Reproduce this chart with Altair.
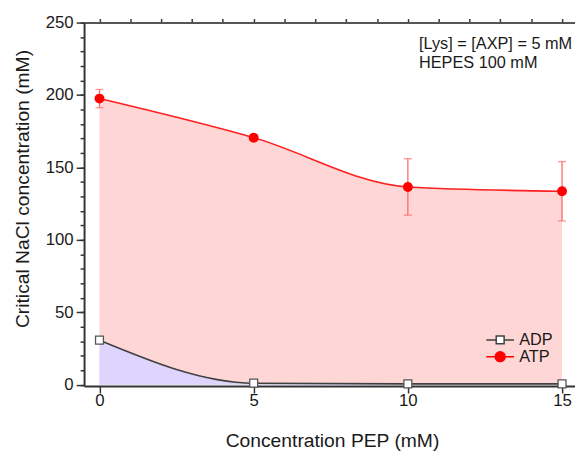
import altair as alt
import pandas as pd

# ---- data ----
pep = [0, 5, 10, 15]
atp = [197.5, 170.5, 136.5, 133.5]
atp_err = [6.3, 2.0, 19.5, 20.5]
adp = [30.7, 1.0, 0.5, 0.5]
series_names = ["ADP", "ATP"]
y_major = [0, 50, 100, 150, 200, 250]
y_minor = list(range(0, 251, 10))
x_major = [0, 5, 10, 15]
x_minor = list(range(0, 16, 1))
annotation_lines = ["[Lys] = [AXP] = 5 mM", "HEPES 100 mM"]

FONT = "Liberation Sans"
TXT = "#1a1a1a"
AX = "#333333"

df_atp = pd.DataFrame({"pep": pep, "val": atp,
                       "lo": [v - e for v, e in zip(atp, atp_err)],
                       "hi": [v + e for v, e in zip(atp, atp_err)]})
df_adp = pd.DataFrame({"pep": pep, "val": adp})
one_row = pd.DataFrame({"k": [0]})

x_scale = alt.Scale(domain=[-0.5, 15.42], nice=False, zero=False)
y_scale = alt.Scale(domain=[-1, 250], nice=False, zero=False)

x_axis_major = alt.Axis(
    values=x_major, title="Concentration PEP (mM)", tickSize=7,
    grid=False, domainColor=AX, domainWidth=2, tickColor=AX, tickWidth=1.5,
    labelFont=FONT, labelFontSize=17, labelColor=TXT, labelPadding=0,
    labelFlush=False, labelBound=False,
    titleFont=FONT, titleFontSize=19.5, titleFontWeight="normal", titleColor=TXT,
    titleBaseline="alphabetic", titleY=61, titleX=251,
)
x_axis_minor = alt.Axis(values=x_minor, title=None, labels=False, domain=False,
                        grid=False, tickSize=4, tickColor=AX, tickWidth=1.5)
x_axis_top = alt.Axis(orient="top", title=None, labels=False, ticks=False, grid=False,
                      domainColor="#555555", domainWidth=2)
y_axis_major = alt.Axis(
    values=y_major, title="Critical NaCl concentration (mM)", tickSize=8,
    grid=False, domainColor=AX, domainWidth=2, tickColor=AX, tickWidth=1.5,
    labelFont=FONT, labelFontSize=17, labelColor=TXT, labelPadding=3,
    labelFlush=False, labelBound=False,
    titleFont=FONT, titleFontSize=19.5, titleFontWeight="normal", titleColor=TXT,
    titleAngle=-90, titleBaseline="alphabetic", titleAlign="center",
    titleX=-56, titleY=168,
)
y_axis_minor = alt.Axis(orient="left", values=y_minor, title=None, labels=False, domain=False,
                        grid=False, tickSize=4, tickColor=AX, tickWidth=1.5)

Xn = alt.X("pep:Q", scale=x_scale, axis=None)
Yn = alt.Y("val:Q", scale=y_scale, axis=None)

atp_base = alt.Chart(df_atp)
adp_base = alt.Chart(df_adp)

atp_area = atp_base.mark_area(interpolate="monotone", color="#ffd6d6").encode(
    x=alt.X("pep:Q", scale=x_scale, axis=x_axis_major),
    y=alt.Y("val:Q", scale=y_scale, axis=y_axis_major), y2=alt.datum(0))
adp_area = adp_base.mark_area(interpolate="monotone", color="#ddd5fd").encode(
    x=alt.X("pep:Q", scale=x_scale, axis=x_axis_minor),
    y=alt.Y("val:Q", scale=y_scale, axis=y_axis_minor), y2=alt.datum(0))

atp_line = atp_base.mark_line(interpolate="monotone", color="#ff2020", strokeWidth=1.6).encode(
    x=alt.X("pep:Q", scale=x_scale, axis=x_axis_top), y=Yn)
adp_line = adp_base.mark_line(interpolate="monotone", color="#404040", strokeWidth=1.6).encode(
    x=Xn, y=Yn)

err_rule = atp_base.mark_rule(color="#ff6a6a", strokeWidth=1.3).encode(
    x=Xn, y=alt.Y("lo:Q", scale=y_scale, axis=None), y2="hi:Q")
err_lo = atp_base.mark_tick(color="#ff6a6a", thickness=1.3, size=8, orient="horizontal").encode(
    x=Xn, y=alt.Y("lo:Q", scale=y_scale, axis=None))
err_hi = atp_base.mark_tick(color="#ff6a6a", thickness=1.3, size=8, orient="horizontal").encode(
    x=Xn, y=alt.Y("hi:Q", scale=y_scale, axis=None))

atp_pts = atp_base.mark_point(shape="circle", filled=True, color="#ff0000", size=100, opacity=1).encode(
    x=Xn, y=Yn)
adp_pts = adp_base.mark_point(shape="square", filled=False, fill="white", stroke="#555555",
                              strokeWidth=1.3, size=64, opacity=1).encode(x=Xn, y=Yn)

annot = alt.Chart(one_row).mark_text(
    align="left", baseline="alphabetic", font=FONT, fontSize=16.5, lineHeight=19, color=TXT
).encode(x=alt.value(339), y=alt.value(26.5), text=alt.value(annotation_lines))

# legend symbols: line - marker - line
path_adp = "M-3.5,0H-1M1,0H3.5M-1,-1H1V1H-1Z"
path_atp = "M-3.5,0H-1.25M1.25,0H3.5M-1.25,0A1.25,1.25,0,1,0,1.25,0A1.25,1.25,0,1,0,-1.25,0Z"

def leg():
    return alt.Legend(title=None, orient="none", legendX=413, legendY=313,
                      symbolSize=64, symbolStrokeWidth=1.5, labelFont=FONT,
                      labelFontSize=16.5, labelColor=TXT, labelOffset=11,
                      rowPadding=0, padding=0, symbolOpacity=1)

legend_df = pd.DataFrame({"series": series_names, "pep": [0, 0], "val": [0, 0]})
legend_layer = alt.Chart(legend_df).transform_filter("false").mark_point(opacity=1).encode(
    x=Xn, y=Yn,
    shape=alt.Shape("series:N", scale=alt.Scale(domain=series_names, range=[path_adp, path_atp]), legend=leg()),
    stroke=alt.Stroke("series:N", scale=alt.Scale(domain=series_names, range=["#404040", "#ff0000"]), legend=leg()),
    fill=alt.Fill("series:N", scale=alt.Scale(domain=series_names, range=["#ffffff", "#ff0000"]), legend=leg()),
)

chart = alt.layer(
    atp_area, adp_area, atp_line, adp_line, err_rule, err_lo, err_hi,
    atp_pts, adp_pts, annot, legend_layer
).resolve_axis(x="independent", y="independent").properties(
    width=497, height=368,
    autosize=alt.AutoSizeParams(type="none"),
    padding={"left": 77, "top": 12, "right": 0, "bottom": 64},
    background="white",
).configure_view(stroke=None)

chart.save("out.html", embed_options={"renderer": "svg", "actions": False})
